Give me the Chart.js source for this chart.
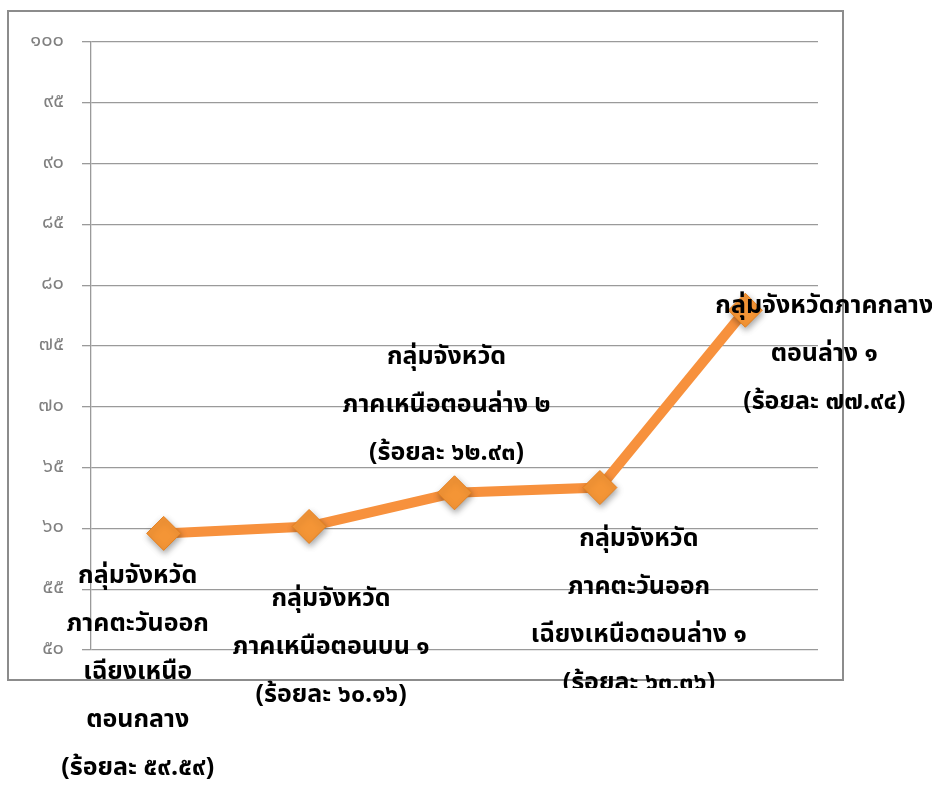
<!DOCTYPE html>
<html>
<head>
<meta charset="utf-8">
<script src="https://cdn.jsdelivr.net/npm/chart.js@4/dist/chart.umd.min.js"></script>
<style>
  html, body { margin: 0; padding: 0; background: #fff; }
  #wrap { width: 932px; height: 785px; position: relative; }
</style>
</head>
<body>
<div id="wrap"><canvas id="c" width="932" height="785"></canvas></div>
<script>
// ---- data ----
const categories = ['ตะวันออกเฉียงเหนือตอนกลาง', 'เหนือตอนบน ๑', 'เหนือตอนล่าง ๒', 'ตะวันออกเฉียงเหนือตอนล่าง ๑', 'กลางตอนล่าง ๑'];
const values = [59.59, 60.16, 62.93, 63.36, 77.94];
const yTickValues = [50, 55, 60, 65, 70, 75, 80, 85, 90, 95, 100];
const yTickLabels = ['๕๐', '๕๕', '๖๐', '๖๕', '๗๐', '๗๕', '๘๐', '๘๕', '๙๐', '๙๕', '๑๐๐'];
const pointLabels = [
  ['กลุ่มจังหวัด', 'ภาคตะวันออก', 'เฉียงเหนือ', 'ตอนกลาง', '(ร้อยละ ๕๙.๕๙)'],
  ['กลุ่มจังหวัด', 'ภาคเหนือตอนบน ๑', '(ร้อยละ ๖๐.๑๖)'],
  ['กลุ่มจังหวัด', 'ภาคเหนือตอนล่าง ๒', '(ร้อยละ ๖๒.๙๓)'],
  ['กลุ่มจังหวัด', 'ภาคตะวันออก', 'เฉียงเหนือตอนล่าง ๑', '(ร้อยละ ๖๓.๓๖)'],
  ['กลุ่มจังหวัดภาคกลาง', 'ตอนล่าง ๑', '(ร้อยละ ๗๗.๙๔)']
];

// ---- styling (label placement relative to each point) ----
const labelStyle = [
  { dx: -26, dy: 45 },
  { dx: 22, dy: 74 },
  { dx: -8, dy: -134 },
  { dx: 39, dy: 53, clipBottom: 688 },
  { dx: 79, dy: -2 }
];
const LINE_GAP = 48;
const FONT = '"Noto Sans Thai", "Noto Sans", "DejaVu Sans", sans-serif';

const framePlugin = {
  id: 'frame',
  beforeDraw(chart) {
    const ctx = chart.ctx;
    ctx.save();
    ctx.fillStyle = '#fff';
    ctx.fillRect(0, 0, chart.width, chart.height);
    ctx.strokeStyle = '#8c8c8c';
    ctx.lineWidth = 2;
    ctx.strokeRect(8, 11, 835, 669);
    ctx.restore();
  }
};

const labelPlugin = {
  id: 'ptLabels',
  afterDraw(chart) {
    const ctx = chart.ctx;
    const meta = chart.getDatasetMeta(0);
    ctx.save();
    ctx.font = 'bold 25px ' + FONT;
    ctx.fillStyle = '#000';
    ctx.textAlign = 'center';
    ctx.textBaseline = 'middle';
    meta.data.forEach((pt, i) => {
      const st = labelStyle[i];
      ctx.save();
      if (st.clipBottom) {
        ctx.beginPath();
        ctx.rect(0, 0, chart.width, st.clipBottom);
        ctx.clip();
      }
      pointLabels[i].forEach((line, j) => {
        ctx.fillText(line, pt.x + st.dx, pt.y + st.dy + j * LINE_GAP);
      });
      ctx.restore();
    });
    ctx.restore();
  }
};

// soft drop shadow under the markers only
const shadowPlugin = {
  id: 'ptShadow',
  beforeDatasetDraw(chart) {
    const ctx = chart.ctx;
    const meta = chart.getDatasetMeta(0);
    // draw line first without shadow, then points with shadow
    ctx.save();
    meta.dataset.draw(ctx, chart.chartArea);
    ctx.restore();
    ctx.save();
    ctx.shadowColor = 'rgba(0,0,0,0.35)';
    ctx.shadowBlur = 6;
    ctx.shadowOffsetX = 1;
    ctx.shadowOffsetY = 3;
    meta.data.forEach(p => p.draw(ctx, chart.chartArea));
    ctx.restore();
    return false;
  }
};

new Chart(document.getElementById('c'), {
  type: 'line',
  data: {
    labels: categories,
    datasets: [{
      data: values,
      borderColor: '#F7913D',
      borderWidth: 10,
      tension: 0,
      pointStyle: 'rectRot',
      pointRadius: 17,
      pointHoverRadius: 17,
      pointBackgroundColor: '#F49536',
      pointBorderColor: '#E6811F',
      pointBorderWidth: 1
    }]
  },
  options: {
    responsive: false,
    animation: false,
    events: [],
    layout: { padding: { left: 0, right: 114, top: 42, bottom: 135 } },
    plugins: { legend: { display: false }, tooltip: { enabled: false } },
    scales: {
      x: {
        display: false,
        offset: true
      },
      y: {
        min: 50,
        max: 100,
        afterBuildTicks(scale) {
          scale.ticks = yTickValues.map(v => ({ value: v }));
        },
        afterFit(scale) { scale.width = 91; },
        ticks: {
          padding: 18,
          color: '#808080',
          font: { family: FONT, size: 20 },
          callback: (v) => yTickLabels[yTickValues.indexOf(v)]
        },
        grid: { color: '#9a9a9a', lineWidth: 1.3, tickLength: 9 },
        border: { display: true, color: '#9a9a9a', width: 1.3 }
      }
    }
  },
  plugins: [framePlugin, shadowPlugin, labelPlugin]
});
</script>
</body>
</html>
